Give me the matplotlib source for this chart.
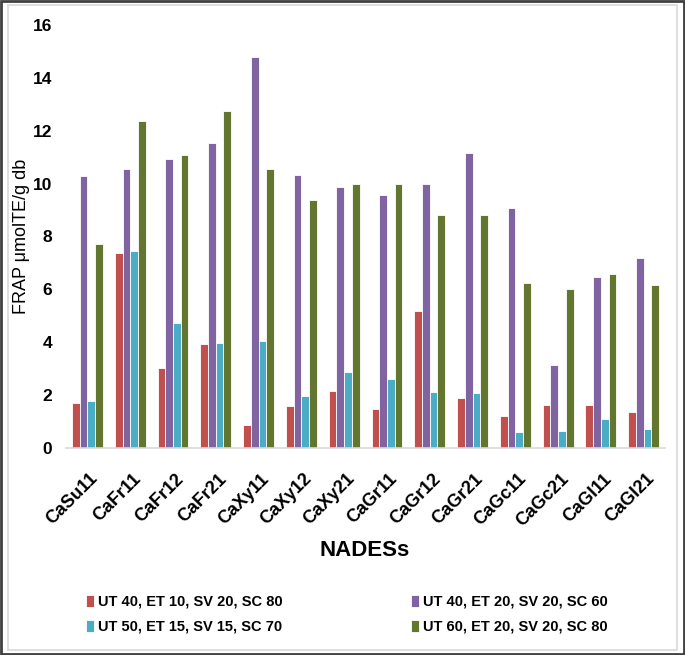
import matplotlib
matplotlib.use("Agg")
import matplotlib.pyplot as plt
import numpy as np
from matplotlib.patches import Rectangle

# NADES names and FRAP values
nades = ['CaSu11', 'CaFr11', 'CaFr12', 'CaFr21', 'CaXy11', 'CaXy12', 'CaXy21',
         'CaGr11', 'CaGr12', 'CaGr21', 'CaGc11', 'CaGc21', 'CaGl11', 'CaGl21']
ut40_et10 = [1.69, 7.39, 3.01, 3.93, 0.86, 1.60, 2.16, 1.47, 5.19, 1.88, 1.20, 1.63, 1.63, 1.37]
ut40_et20 = [10.29, 10.54, 10.93, 11.55, 14.78, 10.34, 9.86, 9.57, 9.97, 11.17, 9.08, 3.13, 6.45, 7.20]
ut50_et15 = [1.77, 7.46, 4.72, 3.98, 4.06, 1.98, 2.86, 2.60, 2.10, 2.07, 0.60, 0.63, 1.10, 0.73]
ut60_et20 = [7.72, 12.38, 11.07, 12.76, 10.56, 9.38, 9.97, 9.97, 8.82, 8.82, 6.25, 6.00, 6.57, 6.15]

labels = ['UT 40, ET 10, SV 20, SC 80', 'UT 40, ET 20, SV 20, SC 60',
          'UT 50, ET 15, SV 15, SC 70', 'UT 60, ET 20, SV 20, SC 80']
colors = ['#C0504D', '#8064A2', '#4BACC6', '#627630']

font = ['Liberation Sans', 'DejaVu Sans']

fig = plt.figure(figsize=(6.85, 6.55), dpi=100)
ax = fig.add_axes([0.0964, 0.316, 0.8745, 0.646])

x = np.arange(len(nades))
w = 0.18
series = [ut40_et10, ut40_et20, ut50_et15, ut60_et20]
bars = []
for i, vals in enumerate(series):
    b = ax.bar(x + (i - 1.5) * w, vals, w, color=colors[i], edgecolor='white',
               linewidth=0.6, label=labels[i])
    bars.append(b)

ax.set_xlim(-0.5, len(nades) - 0.5)
ax.set_ylim(0, 16)
ax.set_yticks(range(0, 17, 2))
ax.tick_params(length=0)
for s in ['top', 'right', 'left']:
    ax.spines[s].set_visible(False)
ax.spines['bottom'].set_color('#d9d9d9')
ax.spines['bottom'].set_linewidth(1.2)

ax.set_xticks(x + 0.05)
ax.set_xticklabels(nades, rotation=45, ha='right', rotation_mode='anchor',
                   fontsize=13, fontweight='bold', family=font)
for t in ax.get_yticklabels():
    t.set_family(font)
    t.set_fontweight('bold')
    t.set_fontsize(12.5)
ax.tick_params(axis='x', pad=16)
ax.tick_params(axis='y', pad=10)

ax.set_ylabel('FRAP μmolTE/g db', fontsize=13, family=font, labelpad=2)
fig.text(0.533, 0.16, 'NADESs', ha='center', va='center', fontsize=16,
         fontweight='bold', family=font)

# legend in two rows: red/purple then cyan/green
order = [0, 2, 1, 3]
leg = fig.legend([bars[i] for i in order], [labels[i] for i in order], ncol=2,
                 loc='center left', bbox_to_anchor=(0.126, 0.062), frameon=False,
                 borderpad=0, borderaxespad=0,
                 handlelength=0.55, handleheight=0.9, handletextpad=0.25,
                 columnspacing=8.8, labelspacing=0.75,
                 prop={'family': font, 'weight': 'bold', 'size': 10.5})

# outer frames like the exported chart
fig.patches.append(Rectangle((0.012, 0.008), 0.976, 0.984, transform=fig.transFigure,
                             fill=False, edgecolor='#d9d9d9', linewidth=1.2))
fig.patches.append(Rectangle((0.001, 0.001), 0.998, 0.998, transform=fig.transFigure,
                             fill=False, edgecolor='#404040', linewidth=2))

fig.savefig('out.png', dpi=100)
